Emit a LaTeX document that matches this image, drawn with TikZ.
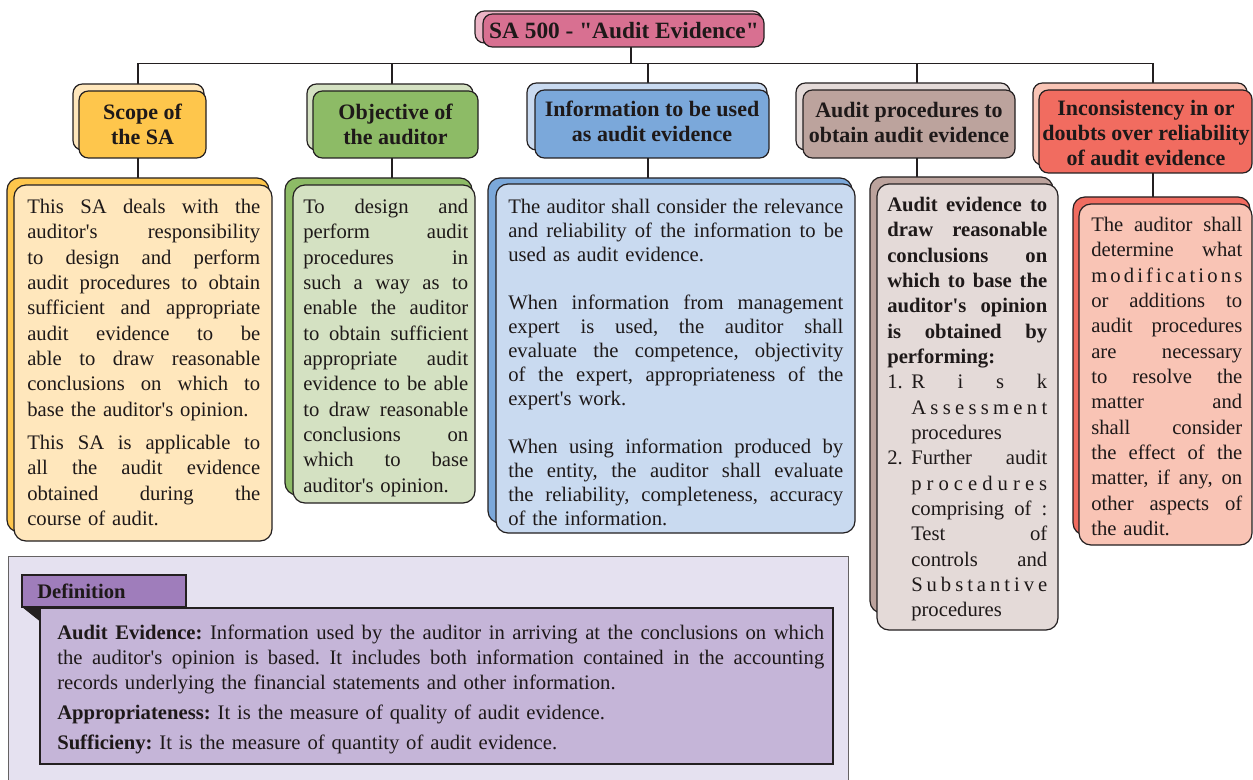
\documentclass[tikz,border=0pt]{standalone}
\usepackage{fontspec}
\newfontfamily\libplain{Liberation Serif}
\usetikzlibrary{fit}
\pgfdeclarelayer{bg}
\pgfsetlayers{bg,main}
\definecolor{edge}{RGB}{35,31,32}
\definecolor{tD}{RGB}{216,112,145}
\definecolor{tL}{RGB}{236,180,198}
\definecolor{sD}{RGB}{254,198,76}
\definecolor{sL}{RGB}{255,231,188}
\definecolor{oD}{RGB}{141,187,102}
\definecolor{oL}{RGB}{212,225,194}
\definecolor{iD}{RGB}{123,168,218}
\definecolor{iL}{RGB}{201,218,240}
\definecolor{aD}{RGB}{188,163,157}
\definecolor{aL}{RGB}{228,218,216}
\definecolor{rD}{RGB}{241,108,96}
\definecolor{rL}{RGB}{249,196,181}
\definecolor{dbg}{RGB}{229,225,240}
\definecolor{dtab}{RGB}{159,125,187}
\definecolor{dbox}{RGB}{197,181,216}
\definecolor{ink}{RGB}{30,25,25}
\newcommand\jl[1]{\makebox[\linewidth][s]{\spaceskip=.25em plus 1fil\xspaceskip=.25em plus 1fil\relax #1}}
\newcommand\jli[1]{\hspace*{18pt}\makebox[\dimexpr\linewidth-18pt\relax][s]{\spaceskip=.25em plus 1fil\xspaceskip=.25em plus 1fil\relax #1}}
\tikzset{
  hbox/.style={draw=edge, line width=0.9pt, rounded corners=7pt, inner sep=0pt, outer sep=0pt},
  bbox/.style={draw=edge, line width=0.9pt, rounded corners=9pt, inner sep=0pt, outer sep=0pt},
  sqbox/.style={draw=edge, line width=0.8pt, inner sep=0pt, outer sep=0pt},
  conn/.style={draw=edge, line width=0.8pt},
  hdtxt/.style={font=\bfseries\fontsize{16.5}{18.75}\selectfont, align=center, inner sep=0pt, text=ink},
  bodytxt/.style={anchor=north west, inner sep=0pt, align=left, text=ink, font=\fontsize{15.5}{19}\selectfont},
}
\begin{document}
\libplain\frenchspacing
\begin{tikzpicture}[x=0.75pt, y=-0.75pt]
\useasboundingbox (0,0) rectangle (1253,780);
% title
\node[hbox, fill=tL, fit={(475,11) (762,43)}] (titleS) {};
\node[hbox, fill=tD, fit={(483,14) (764,47)}] (title) {};
\node[font=\bfseries\fontsize{17.5}{20}\selectfont, inner sep=0pt, text=ink] (titleT) at (624,31) {SA 500 - "Audit Evidence"};
% bus coordinates
\coordinate (bus1) at (138,63.5);
\coordinate (bus2) at (392,63.5);
\coordinate (bus3) at (648,63.5);
\coordinate (bus4) at (917,63.5);
\coordinate (bus5) at (1153,63.5);
\coordinate (tdrop) at (631,63.5);
% headers
\node[hbox, fill=sL, fit={(73,84) (204,150)}] (scopeHS) {};
\node[hbox, fill=sD, fit={(79,91) (206,158)}] (scopeH) {};
\node[hdtxt] (scopeHT) at (142.5,124.5) {Scope of\\the SA};
\node[hbox, fill=oL, fit={(307,84) (473,150)}] (objHS) {};
\node[hbox, fill=oD, fit={(313,91) (478,158)}] (objH) {};
\node[hdtxt] (objHT) at (395.5,124.5) {Objective of\\the auditor};
\node[hbox, fill=iL, fit={(527,83) (767,150)}] (infoHS) {};
\node[hbox, fill=iD, fit={(535,90) (769,158)}] (infoH) {};
\node[hdtxt] (infoHT) at (652,121) {Information to be used\\as audit evidence};
\node[hbox, fill=aL, fit={(796,83) (1010,150)}] (audHS) {};
\node[hbox, fill=aD, fit={(803,90) (1015,158)}] (audH) {};
\node[hdtxt] (audHT) at (909,123) {Audit procedures to\\obtain audit evidence};
\node[hbox, fill=rL, fit={(1033,83) (1247,165)}] (redHS) {};
\node[hbox, fill=rD, fit={(1039,90) (1252,173)}] (redH) {};
\node[hdtxt] (redHT) at (1146,133) {Inconsistency in or\\doubts over reliability\\of audit evidence};
% bodies
\node[bbox, fill=sD, fit={(7,178) (269,532)}] (scopeBS) {};
\node[bbox, fill=sL, fit={(14,185) (272,541)}] (scopeB) {};
\node[bbox, fill=oD, fit={(285,178) (472,495)}] (objBS) {};
\node[bbox, fill=oL, fit={(293,185) (475,503)}] (objB) {};
\node[bbox, fill=iD, fit={(488,178) (852,523)}] (infoBS) {};
\node[bbox, fill=iL, fit={(496,184) (855,533)}] (infoB) {};
\node[bbox, fill=aD, fit={(870,177) (1053,613)}] (audBS) {};
\node[bbox, fill=aL, fit={(877,184) (1058,630)}] (audB) {};
\node[bbox, fill=rD, fit={(1073,197) (1250,535)}] (redBS) {};
\node[bbox, fill=rL, fit={(1079,204) (1252,545)}] (redB) {};
% connectors
\begin{pgfonlayer}{bg}
\draw[conn] (bus1) -- (bus5);
\draw[conn] (title.south -| tdrop) -- (tdrop);
\draw[conn] (bus1) -- (bus1 |- scopeBS.north);
\draw[conn] (bus2) -- (bus2 |- objBS.north);
\draw[conn] (bus3) -- (bus3 |- infoBS.north);
\draw[conn] (bus4) -- (bus4 |- audBS.north);
\draw[conn] (bus5) -- (bus5 |- redBS.north);
\end{pgfonlayer}
% body texts
\node[bodytxt, text width=174.75pt] (scopeT) at (27,199) {%
\jl{This SA deals with the}\\
\jl{auditor's responsibility}\\
\jl{to design and perform}\\
\jl{audit procedures to obtain}\\
\jl{sufficient and appropriate}\\
\jl{audit evidence to be}\\
\jl{able to draw reasonable}\\
\jl{conclusions on which to}\\
base the auditor's opinion.\\[6pt]
\jl{This SA is applicable to}\\
\jl{all the audit evidence}\\
\jl{obtained during the}\\
course of audit.};
\node[bodytxt, text width=123.75pt] (objT) at (303,199) {%
\jl{To design and}\\
\jl{perform audit}\\
\jl{procedures in}\\
\jl{such a way as to}\\
\jl{enable the auditor}\\
\jl{to obtain sufficient}\\
\jl{appropriate audit}\\
\jl{evidence to be able}\\
\jl{to draw reasonable}\\
\jl{conclusions on}\\
\jl{which to base}\\
auditor's opinion.};
\node[bodytxt, text width=251.25pt, font=\fontsize{15.5}{18}\selectfont] (infoT) at (508,199) {%
\jl{The auditor shall consider the relevance}\\
\jl{and reliability of the information to be}\\
used as audit evidence.\\[18pt]
\jl{When information from management}\\
\jl{expert is used, the auditor shall}\\
\jl{evaluate the competence, objectivity}\\
\jl{of the expert, appropriateness of the}\\
expert's work.\\[18pt]
\jl{When using information produced by}\\
\jl{the entity, the auditor shall evaluate}\\
\jl{the reliability, completeness, accuracy}\\
of the information.};
\node[bodytxt, text width=120pt] (audT) at (887,197) {%
\jl{\bfseries Audit evidence to}\\
\jl{\bfseries draw reasonable}\\
\jl{\bfseries conclusions on}\\
\jl{\bfseries which to base the}\\
\jl{\bfseries auditor's opinion}\\
\jl{\bfseries is obtained by}\\
\textbf{performing:}\\
\makebox[18pt][l]{1.}\makebox[\dimexpr\linewidth-18pt\relax][s]{R\hfill i\hfill s\hfill k}\\
\jli{A\hfill s\hfill s\hfill e\hfill s\hfill s\hfill m\hfill e\hfill n\hfill t}\\
\hspace*{18pt}procedures\\
\makebox[18pt][l]{2.}\makebox[\dimexpr\linewidth-18pt\relax][s]{\spaceskip=.25em plus 1fil\relax Further audit}\\
\jli{p\hfill r\hfill o\hfill c\hfill e\hfill d\hfill u\hfill r\hfill e\hfill s}\\
\jli{comprising of :}\\
\jli{Test of}\\
\jli{controls and}\\
\jli{S\hfill u\hfill b\hfill s\hfill t\hfill a\hfill n\hfill t\hfill i\hfill v\hfill e}\\
\hspace*{18pt}procedures};
\node[bodytxt, text width=113.25pt] (redT) at (1091,217) {%
\jl{The auditor shall}\\
\jl{determine what}\\
\jl{m\hfill o\hfill d\hfill i\hfill f\hfill i\hfill c\hfill a\hfill t\hfill i\hfill o\hfill n\hfill s}\\
\jl{or additions to}\\
\jl{audit procedures}\\
\jl{are necessary}\\
\jl{to resolve the}\\
\jl{matter and}\\
\jl{shall consider}\\
\jl{the effect of the}\\
\jl{matter, if any, on}\\
\jl{other aspects of}\\
the audit.};
% definition panel
\node[draw=edge!70, line width=0.6pt, fill=dbg, inner sep=0pt, outer sep=0pt, fit={(8,556) (848,790)}] (defP) {};
\node[sqbox, fill=dtab, fit={(22,575) (186,607)}] (defTab) {};
\node[sqbox, fill=dbox, fit={(40,608) (833,764)}] (defBox) {};
\fill[edge] (defTab.south west) -- (defBox.north west) -- ([yshift=-10pt]defBox.north west) -- cycle;
\node[anchor=west, inner sep=0pt, text=ink, font=\bfseries\fontsize{15.5}{18}\selectfont] (defLab) at (37,591) {Definition};
\node[bodytxt, text width=575.25pt, font=\fontsize{15.5}{18.75}\selectfont] (defT) at (57,625) {%
\jl{\textbf{Audit Evidence:} Information used by the auditor in arriving at the conclusions on which}\\
\jl{the auditor's opinion is based. It includes both information contained in the accounting}\\
records underlying the financial statements and other information.\\[3.75pt]
\textbf{Appropriateness:} It is the measure of quality of audit evidence.\\[3.75pt]
\textbf{Sufficieny:} It is the measure of quantity of audit evidence.};
\end{tikzpicture}
\end{document}
